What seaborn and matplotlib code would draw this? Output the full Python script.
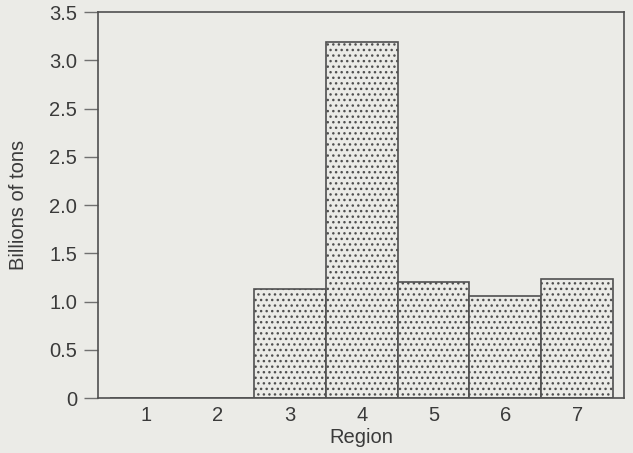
import matplotlib
matplotlib.use("Agg")
import matplotlib.pyplot as plt
import seaborn as sns
import pandas as pd

regions = [1, 2, 3, 4, 5, 6, 7]
tons = [0, 0, 1.13, 3.69, 1.20, 1.06, 1.23]
ytick_vals = [0, 0.5, 1.0, 1.5, 2.0, 2.5, 3.0, 3.5, 4.0]
ytick_labels = ["0", "0.5", "1.0", "1.5", "2.0", "2.5", "2.5", "3.0", "3.5"]

sns.set_style("white")
plt.rcParams['font.family'] = ['Liberation Sans', 'DejaVu Sans']

bg = '#ebebe7'
ink = '#505050'
txt = '#3a3a3a'
plt.rcParams['hatch.color'] = '#555555'
plt.rcParams['hatch.linewidth'] = 1.0

df = pd.DataFrame({'Region': regions, 'Billions of tons': tons})

fig = plt.figure(figsize=(6.33, 4.53), dpi=100, facecolor=bg)
ax = fig.add_axes([0.155, 0.1214, 0.831, 0.852])
ax.set_facecolor(bg)

sns.barplot(data=df, x='Region', y='Billions of tons', native_scale=True,
            width=1.0, color=bg, edgecolor=ink, linewidth=1.2,
            hatch='...', ax=ax)
for p in ax.patches:
    p.set_facecolor(bg)

ax.set_xlim(0.332, 7.654)
ax.set_ylim(0, 4)
ax.set_yticks(ytick_vals)
ax.set_yticklabels(ytick_labels)
ax.set_xticks(regions)
ax.set_xticklabels([str(r) for r in regions])

ax.tick_params(axis='y', left=True, length=10, width=1, color='#707070',
               labelsize=14.5, labelcolor=txt, pad=5, direction='out')
ax.tick_params(axis='x', bottom=False, length=0, labelsize=14.5, labelcolor=txt, pad=6)

for s in ax.spines.values():
    s.set_color(ink)
    s.set_linewidth(1.2)

ax.set_xlabel('Region', fontsize=14.5, color=txt, labelpad=2)
ax.set_ylabel('Billions of tons', fontsize=14.5, color=txt, labelpad=15)

fig.savefig('out.png', dpi=100, facecolor=bg)
